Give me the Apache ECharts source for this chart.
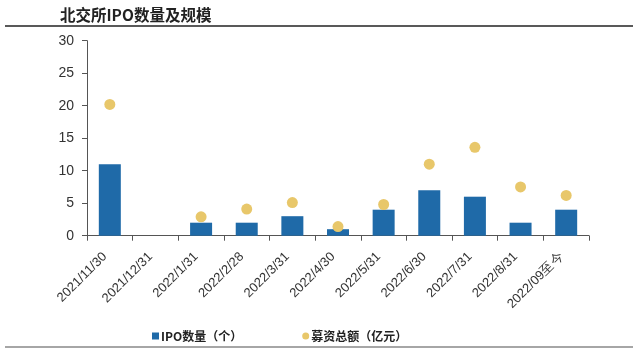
<!DOCTYPE html>
<html><head><meta charset="utf-8">
<script src="https://cdn.jsdelivr.net/npm/echarts@6/dist/echarts.min.js"></script>
<style>html,body{margin:0;padding:0;background:#fff}#c{width:640px;height:352px}</style>
</head><body><div id="c"></div>
<script>
const categories = ['2021/11/30','2021/12/31','2022/1/31','2022/2/28','2022/3/31','2022/4/30','2022/5/31','2022/6/30','2022/7/31','2022/8/31','2022/09至今'];
const ipoCount = [11, 0, 2, 2, 3, 1, 4, 7, 6, 2, 4];
const fundsRaised = [20.2, '-', 2.9, 4.1, 5.1, 1.4, 4.8, 11.0, 13.6, 7.5, 6.2];
const yTicks = [0, 30, 5];

const chart = echarts.init(document.getElementById('c'));
chart.setOption({
  animation: false,
  title: {
    text: '北交所IPO数量及规模', left: 55, top: 2,
    textStyle: {fontFamily: 'Noto Sans CJK SC', fontSize: 15.5, fontWeight: 'bold', color: '#222'}
  },
  graphic: [
    {type: 'line', shape: {x1: 5, y1: 26, x2: 633, y2: 26}, style: {stroke: '#222', lineWidth: 1.5}},
    {type: 'line', shape: {x1: 5, y1: 347, x2: 633, y2: 347}, style: {stroke: '#888', lineWidth: 1.5}}
  ],
  legend: {
    left: 147, top: 325, itemWidth: 7, itemHeight: 7, itemGap: 60,
    textStyle: {fontFamily: 'Noto Sans CJK SC', fontSize: 12, fontWeight: 'bold', color: '#222', padding: [0,0,0,-3]},
    data: [{name: 'IPO数量（个）', icon: 'rect'}, {name: '募资总额（亿元）', icon: 'circle'}]
  },
  grid: {left: 87, right: 51, top: 40.7, bottom: 116.3, containLabel: false},
  xAxis: {
    type: 'category', data: categories,
    axisLine: {lineStyle: {color: '#555', width: 1}},
    axisTick: {show: true, alignWithLabel: false, length: 5, lineStyle: {color: '#555'}},
    axisLabel: {rotate: 45, interval: 0, fontFamily: 'Liberation Sans', fontSize: 13, color: '#333', margin: 14, padding: [0, 7, 0, 0]}
  },
  yAxis: {
    type: 'value', min: yTicks[0], max: yTicks[1], interval: yTicks[2],
    splitLine: {show: false},
    axisLine: {show: true, lineStyle: {color: '#555'}},
    axisTick: {show: true, length: 5, lineStyle: {color: '#555'}},
    axisLabel: {fontFamily: 'Liberation Sans', fontSize: 14, color: '#333', margin: 13}
  },
  series: [
    {name: 'IPO数量（个）', type: 'bar', data: ipoCount, barWidth: 22, itemStyle: {color: '#1f6aa8'}},
    {name: '募资总额（亿元）', type: 'scatter', data: fundsRaised, symbolSize: 11, itemStyle: {color: '#e8c76a', opacity: 1}}
  ]
});
</script></body></html>
